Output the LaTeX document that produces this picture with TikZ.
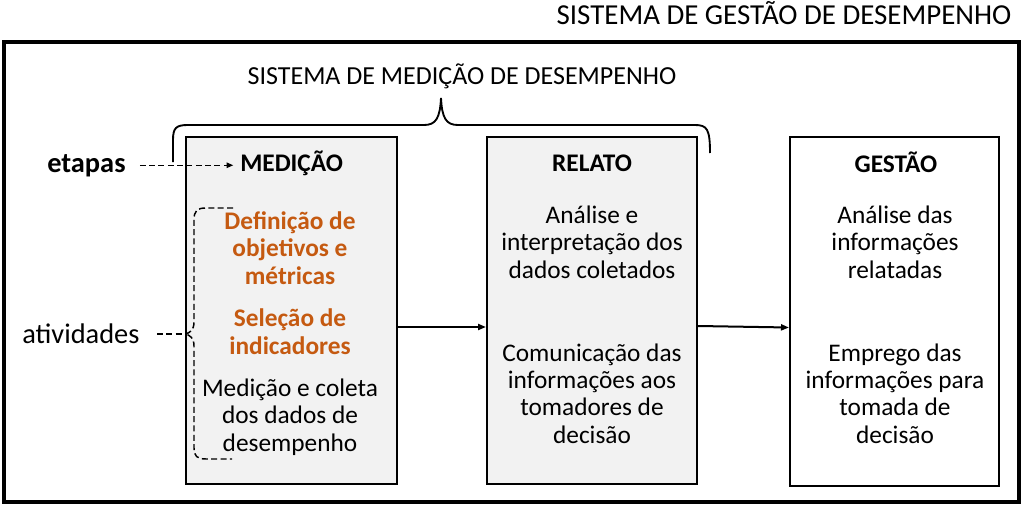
\documentclass[tikz,border=0pt]{standalone}
\usepackage{fontspec}
\setmainfont{Carlito}
\usetikzlibrary{arrows.meta}
\definecolor{boxgray}{HTML}{F2F2F2}
\definecolor{actorange}{HTML}{C55A11}
\begin{document}
\begin{tikzpicture}[x=0.75pt,y=-0.75pt,
  stagebox/.style={draw=black, line width=1.5pt, inner sep=0pt, minimum height=260.25pt},
  body/.style={font=\fontsize{19}{20.5}\selectfont, align=center, anchor=base, inner sep=0pt},
  orangebody/.style={body, font=\fontsize{19}{20.5}\selectfont\bfseries, text=actorange},
  stagetitle/.style={font=\fontsize{19}{20.5}\selectfont\bfseries, anchor=base, inner sep=0pt},
  bigtext/.style={font=\fontsize{21.3}{24}\selectfont, anchor=base, inner sep=0pt},
  dashline/.style={line width=1.1pt, dash pattern=on 4.5pt off 2.5pt},
  flow/.style={line width=1.5pt, -{Triangle[length=6pt,width=4.5pt]}},
  brace/.style={line width=1.4pt}
]
\useasboundingbox (0,0) rectangle (1023,506);
% outer frame
\node[draw=black, line width=3pt, minimum width=761.25pt, minimum height=345pt, inner sep=0pt] (outer) at (511,272) {};
\node[bigtext, font=\fontsize{21.7}{24}\selectfont, anchor=base] (sgd) at (784,25) {SISTEMA DE GESTÃO DE DESEMPENHO};
\node[body, font=\fontsize{19.5}{20.5}\selectfont] (smd) at (462,85) {SISTEMA DE MEDIÇÃO DE DESEMPENHO};
% stage boxes
\node[stagebox, fill=boxgray, minimum width=158.25pt] (med) at (291.5,310.5) {};
\node[stagebox, fill=boxgray, minimum width=157.5pt] (rel) at (592,310.5) {};
\node[stagebox, fill=white, minimum width=156.75pt, minimum height=261.75pt] (ges) at (894.5,311.5) {};
% top brace
\draw[brace] (173,162) -- (173,140) .. controls (173,128) and (176,125) .. (188,125) -- (424,125) .. controls (436,125) and (440,118) .. (441,98) .. controls (442,118) and (446,125) .. (458,125) -- (695,125) .. controls (707,125) and (710,129) .. (710,153);
% titles
\node[stagetitle, anchor=base west] (medt) at (240,171.5) {MEDIÇÃO};
\node[stagetitle] (relt) at (592,171.5) {RELATO};
\node[stagetitle] (gest) at (896,172.5) {GESTÃO};
\node[bigtext, font=\fontsize{21.3}{24}\selectfont\bfseries, anchor=base west] (etapas) at (47,172) {etapas};
\node[bigtext, anchor=base west] (ativ) at (22,343) {atividades};
% medicao activities (anchor base = last line baseline)
\node[orangebody] (a1) at (290,284) {Definição de\\objetivos e\\métricas};
\node[orangebody] (a2) at (290,354) {Seleção de\\indicadores};
\node[body] (a3) at (290,451) {Medição e coleta\\dos dados de\\desempenho};
% relato
\node[body] (r1) at (592,278) {Análise e\\interpretação dos\\dados coletados};
\node[body] (r2) at (592,443) {Comunicação das\\informações aos\\tomadores de\\decisão};
% gestao
\node[body] (g1) at (895,278) {Análise das\\informações\\relatadas};
\node[body] (g2) at (895,443) {Emprego das\\informações para\\tomada de\\decisão};
% etapas arrow
\draw[dashline, -{Triangle[length=5pt,width=4pt]}, shorten <=10.5pt, shorten >=5pt] (etapas.east) -- (etapas.east -| medt.west);
% activities brace
\coordinate (btip) at (185,334);
\draw[dashline] (233,208) -- (206,208) .. controls (197,208) and (194,211) .. (194,220) -- (194,322) .. controls (194,330) and (190,333) .. (btip) .. controls (190,335) and (194,338) .. (194,346) -- (194,448) .. controls (194,456) and (197,459) .. (206,459) -- (232,459);
\draw[dashline, shorten <=13pt] (ativ.east |- btip) -- (btip);
% flow arrows
\coordinate (row1) at (0,327);
\coordinate (row2) at (0,326);
\coordinate (row3) at (0,327.5);
\draw[flow] (med.east |- row1) -- (rel.west |- row1);
\draw[flow] (rel.east |- row2) -- (ges.west |- row3);
\end{tikzpicture}
\end{document}
